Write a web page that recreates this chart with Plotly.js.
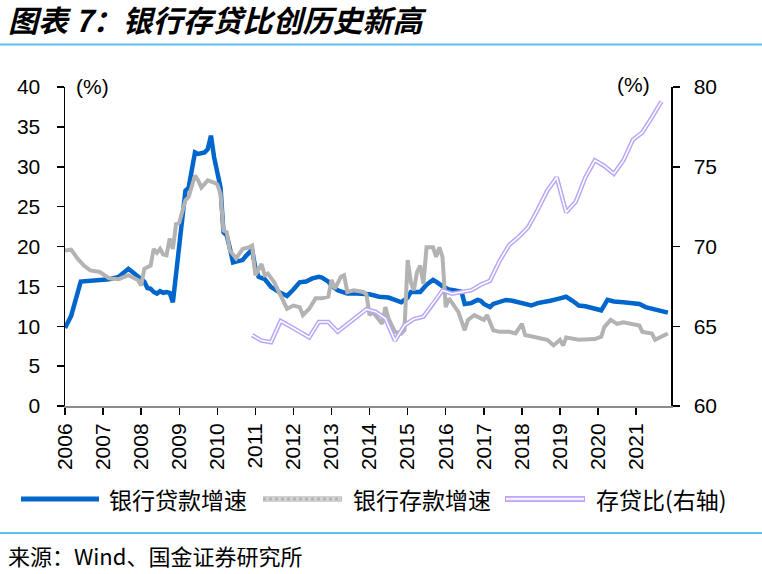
<!DOCTYPE html>
<html><head><meta charset="utf-8">
<script src="https://cdn.plot.ly/plotly-3.0.1.min.js"></script>
<style>html,body{margin:0;padding:0;background:#fff;}#chart{width:762px;height:574px;}</style>
</head><body><div id="chart"></div>
<script>
// 银行贷款增速 (%)
const loanDates = ['2006-01','2006-03','2006-06','2006-09','2006-12','2007-03','2007-06','2007-08','2007-09','2007-10','2007-12','2008-02','2008-03','2008-04','2008-05','2008-06','2008-07','2008-08','2008-09','2008-10','2008-11','2009-03','2009-04','2009-06','2009-07','2009-08','2009-09','2009-10','2009-11','2009-12','2010-01','2010-02','2010-03','2010-04','2010-05','2010-06','2010-07','2010-08','2010-09','2010-10','2010-11','2010-12','2011-01','2011-02','2011-04','2011-06','2011-08','2011-10','2011-11','2012-01','2012-03','2012-05','2012-07','2012-09','2012-10','2012-12','2013-01','2013-03','2013-06','2013-09','2013-11','2014-01','2014-04','2014-07','2014-09','2014-11','2015-01','2015-02','2015-05','2015-07','2015-09','2015-10','2015-12','2016-02','2016-04','2016-06','2016-07','2016-09','2016-11','2016-12','2017-01','2017-03','2017-04','2017-06','2017-08','2017-10','2017-12','2018-02','2018-04','2018-06','2018-08','2018-10','2019-01','2019-03','2019-05','2019-07','2019-09','2019-11','2020-02','2020-04','2020-06','2020-09','2020-12','2021-02','2021-04','2021-06','2021-08','2021-11'];
const loanVals = [9.8,11.3,15.6,15.7,15.8,15.9,16.2,16.8,17.2,16.9,16.3,15.6,14.8,14.7,14.3,14.1,14.4,14.2,14.3,14.2,13.0,27.0,27.4,31.8,31.6,31.7,31.8,32.2,33.9,31.2,29.3,27.4,21.8,21.4,19.8,18.0,18.1,18.2,18.3,18.8,19.3,19.6,17.3,16.2,15.9,14.9,14.4,13.9,13.8,14.6,15.5,15.6,16.0,16.2,16.1,15.6,15.1,14.5,14.1,14.1,14.1,14.0,13.7,13.6,13.3,13.0,13.6,14.3,14.3,15.2,15.8,15.6,15.0,14.6,14.5,14.3,12.8,12.9,13.3,13.2,12.8,12.4,12.8,13.0,13.3,13.2,13.0,12.9,12.6,12.9,13.0,13.2,13.5,13.7,13.2,12.6,12.5,12.3,12.0,13.3,13.1,13.0,12.8,12.8,12.4,12.2,12.0,11.7];

// 银行存款增速 (%)
const depDates = ['2006-01','2006-03','2006-05','2006-07','2006-09','2006-12','2007-03','2007-06','2007-09','2007-12','2008-01','2008-02','2008-04','2008-05','2008-06','2008-07','2008-08','2008-09','2008-10','2008-11','2008-12','2009-01','2009-03','2009-04','2009-06','2009-07','2009-08','2009-10','2009-12','2010-01','2010-02','2010-03','2010-04','2010-05','2010-07','2010-09','2010-11','2010-12','2011-01','2011-03','2011-04','2011-05','2011-07','2011-09','2011-11','2012-01','2012-03','2012-04','2012-06','2012-08','2012-10','2012-12','2013-01','2013-02','2013-04','2013-05','2013-06','2013-08','2013-11','2013-12','2014-01','2014-02','2014-04','2014-05','2014-06','2014-07','2014-09','2014-11','2014-12','2015-01','2015-02','2015-03','2015-04','2015-05','2015-06','2015-07','2015-08','2015-09','2015-10','2015-11','2015-12','2016-01','2016-02','2016-03','2016-05','2016-07','2016-08','2016-10','2016-12','2017-01','2017-02','2017-04','2017-06','2017-09','2017-11','2018-01','2018-02','2018-04','2018-07','2018-09','2018-11','2019-01','2019-02','2019-03','2019-07','2019-10','2019-12','2020-02','2020-03','2020-05','2020-07','2020-09','2020-12','2021-02','2021-03','2021-06','2021-07','2021-09','2021-11'];
const depVals = [19.5,19.6,18.5,17.6,17.0,16.8,16.0,15.9,16.4,15.8,15.1,17.2,17.6,19.7,19.2,19.7,19.0,18.9,21.0,19.7,22.8,23.0,25.8,26.2,28.9,28.3,27.4,28.3,28.0,27.8,26.6,22.0,21.8,19.5,18.5,19.7,19.9,20.1,16.4,17.8,16.4,16.6,15.5,13.7,12.2,12.6,12.4,11.4,12.2,13.5,13.5,13.7,15.8,14.7,16.2,16.4,14.3,14.5,14.3,14.0,11.4,11.8,10.8,10.3,12.4,11.0,9.3,9.1,9.5,18.3,15.5,14.5,16.8,17.6,15.3,19.9,19.9,19.9,18.7,19.9,18.7,12.4,13.5,13.0,11.8,9.5,10.8,11.4,11.0,10.8,11.4,9.5,9.3,9.3,9.1,10.3,8.9,8.7,8.5,8.3,7.6,8.3,7.6,8.6,8.3,8.3,8.4,8.7,9.9,10.8,10.3,10.5,10.3,10.1,9.3,9.1,8.3,8.7,9.1];

// 存贷比 (%, 右轴)
const ldrDates = ['2010-12','2011-03','2011-06','2011-09','2011-12','2012-03','2012-06','2012-09','2012-12','2013-03','2013-06','2013-09','2013-12','2014-03','2014-06','2014-09','2014-12','2015-03','2015-06','2015-09','2015-12','2016-03','2016-06','2016-09','2016-12','2017-03','2017-06','2017-09','2017-12','2018-03','2018-06','2018-09','2018-12','2019-03','2019-06','2019-09','2019-12','2020-03','2020-06','2020-09','2020-12','2021-03','2021-06','2021-09'];
const ldrVals = [64.44,64.1,64.0,65.33,65.0,64.65,64.3,65.27,65.27,64.65,65.1,65.6,66.06,65.9,65.48,64.1,65.06,65.45,65.6,66.4,67.25,67.04,67.15,67.25,67.6,67.85,69.1,70.1,70.6,71.2,72.3,73.5,74.33,72.15,72.8,74.33,75.4,75.05,74.56,75.4,76.7,77.15,78.1,79.1];

const legendNames = ['银行贷款增速','银行存款增速','存贷比(右轴)'];
const titleText = '图表 7：银行存贷比创历史新高';
const sourceText = '来源：Wind、国金证券研究所';

const W = 762, H = 574, L = 65, R = 91, T = 87, B = 168;
const pw = W - L - R, ph = H - T - B;
const xp = px => (px - L) / pw;
const yp = py => (H - B - py) / ph;

const traces = [
  {x: loanDates, y: loanVals, type: 'scatter', mode: 'lines', name: legendNames[0],
   line: {color: '#0066CC', width: 4.5}, showlegend: false},
  {x: depDates, y: depVals, type: 'scatter', mode: 'lines', name: legendNames[1],
   line: {color: '#B3B3B3', width: 4}, showlegend: false},
  {x: ldrDates, y: ldrVals, type: 'scatter', mode: 'lines', name: legendNames[2], yaxis: 'y2',
   line: {color: '#BBA6F6', width: 4.5}, showlegend: false},
  {x: ldrDates, y: ldrVals, type: 'scatter', mode: 'lines', yaxis: 'y2', hoverinfo: 'skip',
   line: {color: '#FFFFFF', width: 1.5}, showlegend: false}
];

const tickFont = {family: 'Liberation Sans, Arial, sans-serif', size: 21, color: '#000'};
const cjk = 'Noto Sans CJK SC, sans-serif';

const legY = yp(499);
const shapes = [
  {type: 'line', xref: 'paper', yref: 'paper', x0: xp(0), x1: xp(762), y0: yp(44.5), y1: yp(44.5), line: {color: '#5BC2EE', width: 2}},
  {type: 'line', xref: 'paper', yref: 'paper', x0: xp(0), x1: xp(762), y0: yp(533), y1: yp(533), line: {color: '#5BC2EE', width: 2}},
  {type: 'line', xref: 'paper', yref: 'paper', x0: xp(21), x1: xp(99), y0: legY, y1: legY, line: {color: '#0066CC', width: 5}},
  {type: 'line', xref: 'paper', yref: 'paper', x0: xp(263), x1: xp(342), y0: legY, y1: legY, line: {color: '#D2D2D2', width: 6}},
  {type: 'line', xref: 'paper', yref: 'paper', x0: xp(263), x1: xp(342), y0: legY, y1: legY, line: {color: '#B4B4B4', width: 3, dash: 'dot'}},
  {type: 'line', xref: 'paper', yref: 'paper', x0: xp(505), x1: xp(585), y0: legY, y1: legY, line: {color: '#BBA6F6', width: 6}},
  {type: 'line', xref: 'paper', yref: 'paper', x0: xp(506), x1: xp(584), y0: legY, y1: legY, line: {color: '#F4F0FF', width: 2.5}}
];

const annotations = [
  {text: legendNames[0], xref: 'paper', yref: 'paper', x: xp(107), y: legY, xanchor: 'left', yanchor: 'middle', showarrow: false, font: {family: cjk, size: 23, color: '#000'}},
  {text: legendNames[1], xref: 'paper', yref: 'paper', x: xp(351), y: legY, xanchor: 'left', yanchor: 'middle', showarrow: false, font: {family: cjk, size: 23, color: '#000'}},
  {text: legendNames[2], xref: 'paper', yref: 'paper', x: xp(594), y: legY, xanchor: 'left', yanchor: 'middle', showarrow: false, font: {family: cjk, size: 23, color: '#000'}},
  {text: sourceText, xref: 'paper', yref: 'paper', x: xp(6), y: yp(555), xanchor: 'left', yanchor: 'middle', showarrow: false, font: {family: cjk, size: 22, color: '#000'}},
  {text: '(%)', xref: 'paper', yref: 'paper', x: xp(92), y: yp(86), xanchor: 'center', yanchor: 'middle', showarrow: false, font: tickFont},
  {text: '(%)', xref: 'paper', yref: 'paper', x: xp(633), y: yp(84), xanchor: 'center', yanchor: 'middle', showarrow: false, font: tickFont}
];

const layout = {
  width: W, height: H,
  margin: {l: L, r: R, t: T, b: B, pad: 0},
  paper_bgcolor: '#fff', plot_bgcolor: '#fff',
  showlegend: false,
  title: {text: '<b><i>' + titleText + '</i></b>', x: 8 / W, xanchor: 'left', xref: 'container',
          y: 1 - 21 / H, yanchor: 'middle', yref: 'container',
          font: {family: cjk, size: 30, color: '#000'}},
  xaxis: {type: 'date', range: ['2006-01-01', '2021-12-01'], tick0: '2006-01-01', dtick: 'M12', tickformat: '%Y',
          tickangle: -90, ticks: 'outside', ticklen: 7, tickwidth: 1.5, tickcolor: '#000',
          showline: true, linecolor: '#8C8C8C', linewidth: 2, showgrid: false, zeroline: false,
          tickfont: tickFont, automargin: false, fixedrange: true},
  yaxis: {range: [0, 40], dtick: 5, ticks: 'outside', ticklen: 7, tickwidth: 1.5, tickcolor: '#000',
          showline: true, linecolor: '#000', linewidth: 1.5, showgrid: false, zeroline: false,
          tickfont: tickFont, automargin: false, ticklabelstandoff: 12, fixedrange: true},
  yaxis2: {range: [60, 80], dtick: 5, overlaying: 'y', side: 'right', ticks: 'outside', ticklen: 7, tickwidth: 1.5, tickcolor: '#000',
           showline: true, linecolor: '#000', linewidth: 1.5, showgrid: false, zeroline: false,
           tickfont: tickFont, automargin: false, ticklabelstandoff: 10, fixedrange: true},
  shapes: shapes,
  annotations: annotations
};

Plotly.newPlot('chart', traces, layout, {displayModeBar: false, staticPlot: true});
</script>
</body></html>
